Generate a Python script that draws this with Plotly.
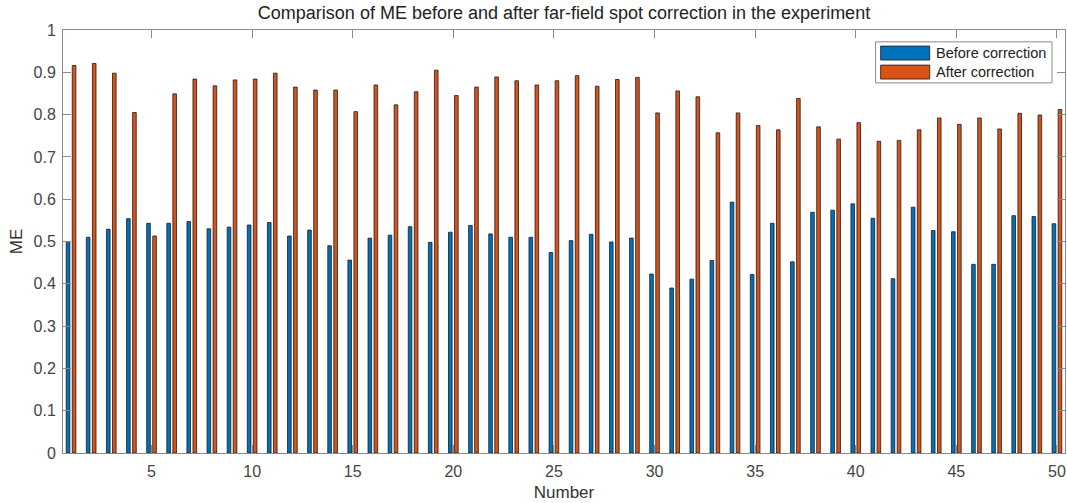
import plotly.graph_objects as go

numbers = list(range(1, 51))
before_correction = [
    0.500, 0.510, 0.529, 0.554, 0.543, 0.543, 0.547, 0.530, 0.534, 0.539,
    0.545, 0.513, 0.527, 0.490, 0.456, 0.508, 0.515, 0.535, 0.498, 0.522,
    0.538, 0.518, 0.510, 0.510, 0.474, 0.502, 0.517, 0.499, 0.508, 0.423,
    0.390, 0.411, 0.455, 0.593, 0.422, 0.543, 0.452, 0.569, 0.574, 0.589,
    0.555, 0.412, 0.581, 0.526, 0.523, 0.446, 0.446, 0.561, 0.559, 0.542,
]
after_correction = [
    0.916, 0.921, 0.898, 0.805, 0.513, 0.849, 0.884, 0.868, 0.882, 0.884,
    0.898, 0.865, 0.858, 0.858, 0.807, 0.870, 0.823, 0.854, 0.905, 0.845,
    0.865, 0.889, 0.880, 0.870, 0.880, 0.892, 0.867, 0.883, 0.888, 0.804,
    0.856, 0.842, 0.757, 0.804, 0.774, 0.764, 0.838, 0.771, 0.742, 0.781,
    0.737, 0.739, 0.764, 0.792, 0.777, 0.792, 0.766, 0.803, 0.799, 0.812,
]
series_names = ["Before correction", "After correction"]
series_colors = ["#0072BD", "#D95319"]
y_ticks = [0, 0.1, 0.2, 0.3, 0.4, 0.5, 0.6, 0.7, 0.8, 0.9, 1]
y_tick_labels = ["0", "0.1", "0.2", "0.3", "0.4", "0.5", "0.6", "0.7", "0.8", "0.9", "1"]
x_ticks = [5, 10, 15, 20, 25, 30, 35, 40, 45, 50]

FONT = "Liberation Sans, Arial, Helvetica, sans-serif"
AXIS_COLOR = "#8a8a8a"
TEXT_COLOR = "#333333"

fig = go.Figure()
for name, vals, col in zip(series_names, [before_correction, after_correction], series_colors):
    fig.add_trace(go.Bar(
        x=numbers, y=vals, name=name,
        marker=dict(color=col, line=dict(color="#1a1a1a", width=0.8)),
        showlegend=False,
    ))

fig.update_layout(
    width=1067, height=503,
    margin=dict(l=63, r=2, t=30, b=50),
    paper_bgcolor="white", plot_bgcolor="white",
    barmode="group", bargap=0.4, bargroupgap=0.4,
    font=dict(family=FONT, size=16, color=TEXT_COLOR),
    title=dict(
        text="Comparison of ME before and after far-field spot correction in the experiment",
        x=0.5, xref="paper", xanchor="center",
        y=1 - 13 / 503, yanchor="middle",
        font=dict(family=FONT, size=18, color="#222222"),
    ),
    xaxis=dict(
        range=[0.6, 50.4], tickmode="array", tickvals=x_ticks,
        ticks="inside", ticklen=8, tickcolor=AXIS_COLOR, tickwidth=1,
        showline=True, linecolor=AXIS_COLOR, linewidth=1, mirror="ticks",
        showgrid=False, zeroline=False, ticklabelstandoff=4,
        tickfont=dict(family=FONT, size=16, color="#444444"),
        title=dict(text="Number", standoff=6, font=dict(family=FONT, size=17, color=TEXT_COLOR)),
    ),
    yaxis=dict(
        range=[0, 1], tickmode="array", tickvals=y_ticks, ticktext=y_tick_labels,
        ticks="inside", ticklen=8, tickcolor=AXIS_COLOR, tickwidth=1,
        showline=True, linecolor=AXIS_COLOR, linewidth=1, mirror="ticks",
        showgrid=False, zeroline=False, ticklabelstandoff=3,
        tickfont=dict(family=FONT, size=16, color="#444444"),
        title=dict(text="ME", standoff=6, font=dict(family=FONT, size=17, color=TEXT_COLOR)),
    ),
)

# Legend drawn in paper coordinates (MATLAB-style wide swatches)
fig.add_shape(type="rect", xref="paper", yref="paper", x0=0.811, x1=0.987, y0=0.875, y1=0.972,
              line=dict(color="#8a8a8a", width=1), fillcolor="white", layer="above")
swatch_y = [(0.929, 0.962, 0.946), (0.884, 0.917, 0.901)]
for (y0, y1, yc), name, col in zip(swatch_y, series_names, series_colors):
    fig.add_shape(type="rect", xref="paper", yref="paper", x0=0.816, x1=0.865, y0=y0, y1=y1,
                  line=dict(color="#1a1a1a", width=0.8), fillcolor=col, layer="above")
    fig.add_annotation(xref="paper", yref="paper", x=0.869, y=yc, text=name, showarrow=False,
                       xanchor="left", yanchor="middle",
                       font=dict(family=FONT, size=14.5, color="#222222"))

fig.write_html("out.html")
